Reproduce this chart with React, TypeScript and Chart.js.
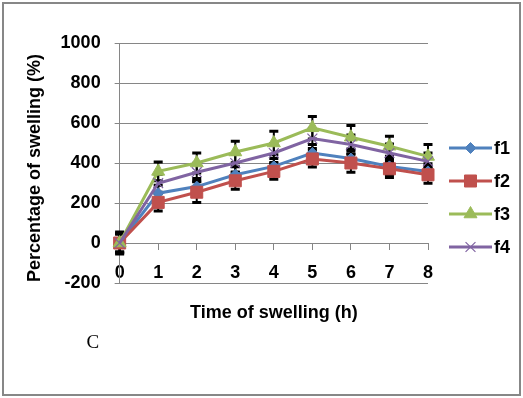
import React, { useEffect, useRef } from 'react';
import { Chart, registerables } from 'chart.js';
import { drawPoint } from 'chart.js/helpers';

Chart.register(...registerables);

// ---- data ----
const hours = ['0', '1', '2', '3', '4', '5', '6', '7', '8'];
const seriesNames = ['f1', 'f2', 'f3', 'f4'];
const f1 = [0, 249, 282, 341, 383, 450, 422, 383, 358];
const f2 = [0, 203, 254, 311, 358, 420, 400, 371, 341];
const f3 = [0, 358, 400, 455, 500, 576, 529, 484, 433];
const f4 = [0, 299, 354, 400, 450, 522, 492, 450, 408];
const f1Err = [50, 40, 40, 40, 40, 42, 40, 40, 38];
const f2Err = [45, 43, 52, 42, 39, 40, 46, 43, 42];
const f3Err = [45, 47, 50, 54, 59, 56, 59, 50, 59];
const f4Err = [55, 45, 45, 45, 48, 50, 48, 45, 42];
const yMin = -200;
const yMax = 1000;
const yStep = 200;

const xTitle = 'Time of swelling (h)';
const yTitle = 'Percentage of swelling (%)';
const panelLabel = 'C';

const FONT = '"Liberation Sans", Arial, sans-serif';
const GRID = '#868686';

const styles = [
  { color: '#4F81BD', pointStyle: 'rectRot', radius: 5.5, borderW: 1 },
  { color: '#C0504D', pointStyle: 'rect', radius: 8.5, borderW: 1 },
  { color: '#9BBB59', pointStyle: 'triangle', radius: 7.5, borderW: 1 },
  { color: '#8064A2', pointStyle: 'crossRot', radius: 7, borderW: 1.2 },
];

const values = [f1, f2, f3, f4];
const errors = [f1Err, f2Err, f3Err, f4Err];

const errorBarPlugin = {
  id: 'errorBars',
  beforeDatasetsDraw(chart: any) {
    const ctx = chart.ctx;
    const yScale = chart.scales.y;
    ctx.save();
    ctx.strokeStyle = '#000';
    chart.data.datasets.forEach((ds: any, di: number) => {
      const meta = chart.getDatasetMeta(di);
      const errs = ds.errors as number[];
      meta.data.forEach((pt: any, i: number) => {
        const v = ds.data[i];
        const e = errs[i];
        const x = pt.x;
        const yt = yScale.getPixelForValue(v + e);
        const yb = yScale.getPixelForValue(v - e);
        ctx.lineWidth = 2;
        ctx.beginPath();
        ctx.moveTo(x, yt);
        ctx.lineTo(x, yb);
        ctx.stroke();
        ctx.lineWidth = 3;
        ctx.beginPath();
        ctx.moveTo(x - 4.5, yt);
        ctx.lineTo(x + 4.5, yt);
        ctx.moveTo(x - 4.5, yb);
        ctx.lineTo(x + 4.5, yb);
        ctx.stroke();
      });
    });
    ctx.restore();
  },
};

const sideLegendPlugin = {
  id: 'sideLegend',
  afterDraw(chart: any) {
    const ctx = chart.ctx;
    const x0 = chart.chartArea.right + 21;
    const x1 = x0 + 43;
    const rows = [148, 181, 214, 247];
    ctx.save();
    chart.data.datasets.forEach((ds: any, i: number) => {
      const y = rows[i];
      ctx.strokeStyle = ds.borderColor;
      ctx.lineWidth = 3;
      ctx.beginPath();
      ctx.moveTo(x0, y);
      ctx.lineTo(x1, y);
      ctx.stroke();
      ctx.fillStyle = ds.pointBackgroundColor;
      ctx.strokeStyle = ds.pointBorderColor;
      ctx.lineWidth = ds.pointBorderWidth;
      drawPoint(ctx, { pointStyle: ds.pointStyle, radius: ds.pointRadius, rotation: 0, borderWidth: ds.pointBorderWidth } as any, (x0 + x1) / 2, y);
      ctx.fillStyle = '#000';
      ctx.font = `bold 18px ${FONT}`;
      ctx.textAlign = 'left';
      ctx.textBaseline = 'middle';
      ctx.fillText(ds.label, x1 + 2, y + 1);
    });
    ctx.restore();
  },
};

export default function App() {
  const canvasRef = useRef<HTMLCanvasElement | null>(null);

  useEffect(() => {
    if (!canvasRef.current) return;
    const datasets = seriesNames.map((name, i) => ({
      label: name,
      data: values[i],
      errors: errors[i],
      borderColor: styles[i].color,
      backgroundColor: styles[i].color,
      borderWidth: 3,
      pointStyle: styles[i].pointStyle,
      pointRadius: styles[i].radius,
      pointBackgroundColor: styles[i].color,
      pointBorderColor: styles[i].color,
      pointBorderWidth: styles[i].borderW,
      tension: 0,
      order: 4 - i,
    }));
    const chart = new Chart(canvasRef.current, {
      type: 'line',
      data: { labels: hours, datasets: datasets as any },
      options: {
        responsive: false,
        animation: false,
        layout: { padding: { left: 14, top: 43, right: 95, bottom: 115 } },
        plugins: {
          legend: { display: false },
          tooltip: { enabled: false },
        },
        scales: {
          x: {
            position: { y: 0 } as any,
            offset: false,
            grid: {
              display: true,
              drawOnChartArea: false,
              drawTicks: true,
              tickLength: 6,
              color: GRID,
            },
            border: { display: true, color: GRID, width: 1 },
            ticks: {
              color: '#000',
              padding: 13.6,
              maxRotation: 0,
              font: { family: FONT, size: 18, weight: 'bold' },
            },
            title: {
              display: true,
              text: xTitle,
              color: '#000',
              padding: { top: 4, bottom: 0 },
              font: { family: FONT, size: 18, weight: 'bold' },
            },
          },
          y: {
            min: yMin,
            max: yMax,
            ticks: {
              stepSize: yStep,
              color: '#000',
              padding: 14,
              callback: (v: any) => String(v),
              font: { family: FONT, size: 18, weight: 'bold' },
            },
            grid: { color: GRID, tickLength: 5, lineWidth: 1 },
            border: { display: true, color: GRID, width: 1 },
            title: {
              display: true,
              text: yTitle + '  ',
              color: '#000',
              padding: { top: 10, bottom: 1 },
              font: { family: FONT, size: 18, weight: 'bold' },
            },
          },
        },
      },
      plugins: [errorBarPlugin, sideLegendPlugin],
    });
    return () => chart.destroy();
  }, []);

  return (
    <div style={{ position: 'absolute', left: 0, top: 0, width: 523, height: 398, background: '#fff', overflow: 'hidden' }}>
      <canvas ref={canvasRef} width={523} height={398} style={{ position: 'absolute', left: 0, top: 0, width: 523, height: 398 }} />
      <div
        style={{
          position: 'absolute',
          left: 86.5,
          top: 332,
          fontFamily: '"Liberation Serif", "Times New Roman", serif',
          fontSize: 19,
          lineHeight: '19px',
          color: '#000',
        }}
      >
        {panelLabel}
      </div>
      <div
        style={{
          position: 'absolute',
          left: 2,
          top: 2,
          width: 519,
          height: 394,
          boxSizing: 'border-box',
          border: '2px solid #878787',
          pointerEvents: 'none',
        }}
      />
    </div>
  );
}
